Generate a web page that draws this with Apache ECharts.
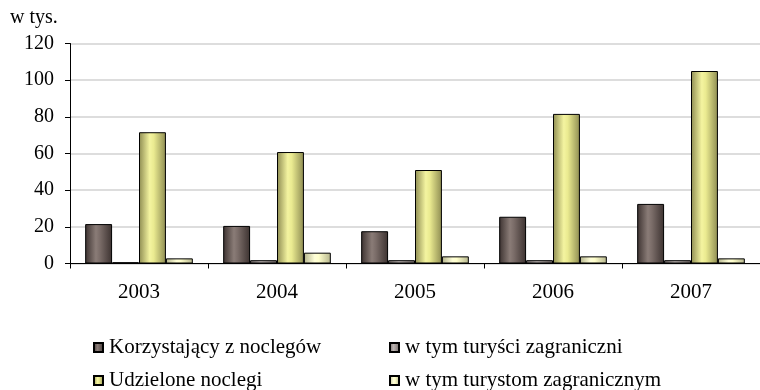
<!DOCTYPE html>
<html>
<head>
<meta charset="utf-8">
<script src="https://cdn.jsdelivr.net/npm/echarts@6/dist/echarts.min.js"></script>
<style>
  html, body { margin: 0; padding: 0; background: #ffffff; }
  #chart { width: 760px; height: 390px; }
</style>
</head>
<body>
<div id="chart"></div>
<script>
// Lata
const years = ['2003', '2004', '2005', '2006', '2007'];

// Wartości w tysiącach
const korzystajacy = [21.5, 20.5, 17.6, 25.5, 32.5];
const turysciZagraniczni = [0.7, 1.8, 1.8, 1.8, 1.8];
const udzieloneNoclegi = [71.6, 60.8, 51, 81.6, 105];
const turystomZagranicznym = [2.8, 5.9, 3.9, 3.9, 2.8];

const seriesNames = [
  'Korzystający z noclegów',
  'w tym turyści zagraniczni',
  'Udzielone noclegi',
  'w tym turystom zagranicznym'
];

const FONT = '"Liberation Serif", "Times New Roman", serif';

// Poziomy gradient: ciemne krawędzie, jasny środek
function shade(edge, mid, light) {
  return {
    type: 'linear', x: 0, y: 0, x2: 1, y2: 0,
    colorStops: [
      { offset: 0, color: edge },
      { offset: 0.4, color: light },
      { offset: 0.55, color: mid },
      { offset: 1, color: edge }
    ]
  };
}

const fills = [
  shade('#3c3230', '#7a6c68', '#8a7c77'),
  shade('#6c6462', '#aaa2a0', '#bcb4b2'),
  shade('#8e8c52', '#eaea90', '#f4f4a0'),
  shade('#b4b48c', '#ffffcc', '#ffffd8')
];

const values = [korzystajacy, turysciZagraniczni, udzieloneNoclegi, turystomZagranicznym];

const series = values.map((data, i) => ({
  name: seriesNames[i],
  type: 'bar',
  data: data,
  barGap: '0%',
  barCategoryGap: '22%',
  itemStyle: { color: fills[i], borderColor: '#000000', borderWidth: 1 }
}));

// Legenda w dwóch wierszach i dwóch kolumnach
const legendPos = [
  { left: 88, top: 332 },
  { left: 384, top: 332 },
  { left: 88, top: 365 },
  { left: 384, top: 365 }
];
const legends = seriesNames.map((name, i) => ({
  data: [name],
  left: legendPos[i].left,
  top: legendPos[i].top,
  itemWidth: 9,
  itemHeight: 9,
  itemGap: 0,
  icon: 'rect',
  selectedMode: false,
  textStyle: { fontFamily: FONT, fontSize: 21, color: '#000000', padding: [0, 0, 0, 1] }
}));

const chart = echarts.init(document.getElementById('chart'), null, { renderer: 'canvas' });
chart.setOption({
  animation: false,
  backgroundColor: '#ffffff',
  grid: { left: 70, right: -5, top: 43.5, bottom: 126.5, containLabel: false },
  title: {
    text: 'w tys.',
    left: 5,
    top: 3,
    textStyle: { fontFamily: FONT, fontSize: 20, fontWeight: 'normal', color: '#000000' }
  },
  legend: legends,
  xAxis: {
    type: 'category',
    data: years,
    axisLine: { lineStyle: { color: '#000000', width: 1 } },
    axisTick: { show: true, length: 5, lineStyle: { color: '#000000' } },
    axisLabel: { fontFamily: FONT, fontSize: 21, color: '#000000', margin: 18 }
  },
  yAxis: {
    type: 'value',
    min: 0,
    max: 120,
    interval: 20,
    axisLine: { show: true, lineStyle: { color: '#000000', width: 1 } },
    axisTick: { show: true, length: 5, lineStyle: { color: '#000000' } },
    axisLabel: { fontFamily: FONT, fontSize: 20, color: '#000000', margin: 16 },
    splitLine: { lineStyle: { color: '#d2d2d2', width: 1.5 } }
  },
  series: series
});
</script>
</body>
</html>
